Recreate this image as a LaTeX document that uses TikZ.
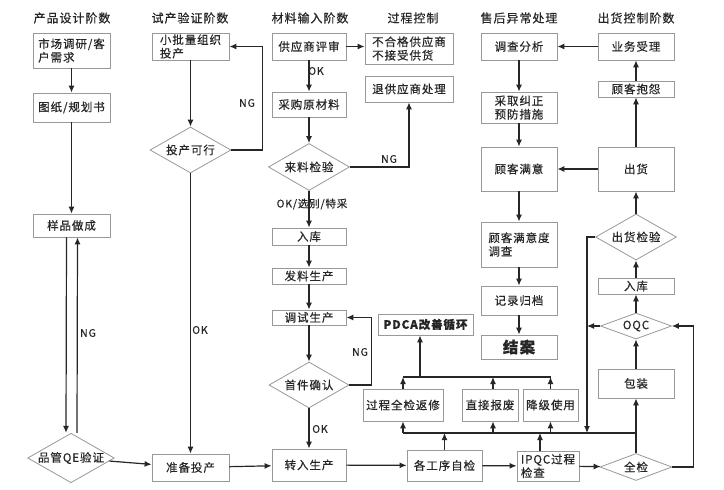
\documentclass[tikz,border=0pt]{standalone}
\usepackage{fontspec}
\setmainfont{Noto Sans CJK SC}[LetterSpace=8, FakeBold=0.4]
\usetikzlibrary{shapes.geometric,arrows.meta}
\colorlet{frame}{black!40}
\colorlet{ink}{black!85}
\colorlet{linec}{black!85}

\begin{document}
\begin{tikzpicture}[x=1pt,y=-1pt,
  box/.style 2 args={draw=frame, line width=0.8pt, text=ink, fill=white,
    minimum width=#1, minimum height=#2, inner sep=1pt,
    font=\fontsize{11.5}{13.5}\selectfont},
  dia/.style 2 args={diamond, draw=frame, line width=0.8pt, text=ink,
    fill=white, aspect=1.75, minimum width=#1, minimum height=#2,
    inner sep=0pt, font=\fontsize{11.5}{13.5}\selectfont},
  head/.style={text=ink, font=\fontsize{12}{14}\selectfont},
  tag/.style={text=ink, font=\fontsize{10.5}{12}\selectfont},
  link/.style={draw=linec, line width=1.2pt},
  flow/.style={link, -{Latex[length=7pt,width=6pt]}}]
      \useasboundingbox[fill=white] (0,0) rectangle (724,490);

      % Titles
      \node[head] (h1) at (72,18) {产品设计阶数};
      \node[head] (h2) at (190,18) {试产验证阶数};
      \node[head] (h3) at (310,18) {材料输入阶数};
      \node[head] (h4) at (413,18) {过程控制};
      \node[head] (h5) at (519,18) {售后异常处理};
      \node[head] (h6) at (636,18) {出货控制阶数};

      % Boxes (design)
      \node[box={77}{35}, align=left] (need) at (71.5,50.5) {市场调研/客\\户需求};
      \node[box={77}{29}] (plan) at (71.5,107.5) {图纸/规划书};
      \node[box={77}{23}] (sample) at (71.5,225.5) {样品做成};
      \node[dia={82}{47}] (qe) at (71,458) {品管QE验证};

      % Boxes (trial)
      \node[box={77}{27}, align=left] (batch) at (190.5,46.5) {小批量组织\\投产};
      \node[dia={81}{46}] (ok) at (190.5,150) {投产可行};
      \node[box={77}{27}] (ready) at (190.5,467.5) {准备投产};

      % Boxes (material)
      \node[box={74}{27}] (audit) at (309,46.5) {供应商评审};
      \node[box={74}{25}] (buy) at (309,104.5) {采购原材料};
      \node[dia={81}{47}] (iqc) at (309,167) {来料检验};
      \node[box={74}{17}] (store) at (309,236.5) {入库};
      \node[box={74}{16}] (issue) at (309,276) {发料生产};
      \node[box={74}{15}] (trial) at (309,317.5) {调试生产};
      \node[dia={80}{46}] (first) at (309,385) {首件确认};
      \node[box={74}{32}] (mass) at (309,465) {转入生产};

      % Boxes (process)
      \node[box={88}{31}, align=left] (reject) at (409,48.5) {不合格供应商\\不接受供货};
      \node[box={88}{26}] (back) at (409,89) {退供应商处理};
      \node[box={95}{21}, font=\bfseries\fontsize{11.5}{13.5}\selectfont] (pdca) at (425.5,324.5) {PDCA改善循环};
      \node[box={80}{32}] (rework) at (403,405) {过程全检返修};
      \node[box={56}{32}] (scrap) at (490,405) {直接报废};
      \node[box={55}{32}] (down) at (550.5,405) {降级使用};
      \node[box={75}{31}] (self) at (444.5,465.5) {各工序自检};
      \node[box={62}{30}, align=left] (ipqc) at (548,466) {IPQC过程\\检查};
      \node[dia={72}{27}] (full) at (636,467) {全检};

      % Boxes (after sale)
      \node[box={76}{27}] (study) at (519,46.5) {调查分析};
      \node[box={76}{31}, align=center] (fix) at (519,107.5) {采取纠正\\预防措施};
      \node[box={76}{44}] (happy) at (519,169) {顾客满意};
      \node[box={76}{45}, align=left] (survey) at (519,244.5) {顾客满意度\\调查};
      \node[box={76}{29}] (file) at (519,300.5) {记录归档};
      \node[box={76}{24}, font=\bfseries\fontsize{15.5}{17}\selectfont] (close) at (519,347) {结案};

      % Boxes (shipping)
      \node[box={76}{27}] (accept) at (636,46.5) {业务受理};
      \node[box={76}{16}] (claim) at (636,89) {顾客抱怨};
      \node[box={76}{44}] (ship) at (636,169) {出货};
      \node[dia={81}{46}] (oqa) at (636,237) {出货检验};
      \node[box={76}{16}] (stock) at (636,286) {入库};
      \node[dia={71}{26}] (oqc) at (636,326) {OQC};
      \node[box={76}{29}] (pack) at (636,383.5) {包装};

      % Bus points
      \coordinate (busU) at (403,377);
      \coordinate (busL) at (403,433);
      \coordinate (drop) at (587,433);

      % Arcs (design / trial)
      \draw[flow] (need) -- (plan);
      \draw[flow] (plan) -- (sample);
      \draw[flow] ([xshift=-5pt]sample.south) -- ([xshift=-5pt]qe.north);
      \draw[flow] ([xshift=6pt]qe.north) -- ([xshift=6pt]sample.south);
      \node[tag] (ng1) at (88,333) {NG};
      \draw[flow] (qe) -- (ready);
      \draw[flow] (batch) -- (ok);
      \draw[flow] (ok.east) -- ++(31,0) |- (batch.east);
      \node[tag] (ng2) at (247,103) {NG};
      \draw[flow] (ok) -- (ready);
      \node[tag] (ok1) at (200,330) {OK};
      \draw[flow] (ready) -- (mass);

      % Arcs (material)
      \draw[flow] (audit.east) -- (audit.east -| reject.west);
      \draw[flow] (audit) -- (buy);
      \node[tag] (ok2) at (316,71) {OK};
      \draw[flow] (buy) -- (iqc);
      \draw[flow] (iqc.east) -| (back.south);
      \node[tag] (ng3) at (389,159) {NG};
      \draw[flow] (iqc) -- (store);
      \node[tag] (ok3) at (312,204) {OK/选别/特采};
      \draw[flow] (store) -- (issue);
      \draw[flow] (issue) -- (trial);
      \draw[flow] (trial) -- (first);
      \draw[flow] (first.east) -- ++(22,0) |- (trial.east);
      \node[tag] (ng4) at (360,352) {NG};
      \draw[flow] (first) -- (mass);
      \node[tag] (ok4) at (320,429) {OK};
      \draw[flow] (mass) -- (self);
      \draw[flow] (self) -- (ipqc);
      \draw[flow] (ipqc) -- (full);

      % Arcs (bus)
      \draw[link] (busL) -- (busL -| full.north);
      \draw[flow] (self.north) -- (self.north |- busL);
      \draw[flow] ([xshift=-8pt]ipqc.north) -- ([xshift=-8pt]ipqc.north |- busL);
      \draw[flow] (rework.south |- busL) -- (rework.south);
      \draw[flow] ([xshift=3pt]scrap.south |- busL) -- ([xshift=3pt]scrap.south);
      \draw[flow] (down.south |- busL) -- (down.south);
      \draw[link] (busU) -- (busU -| down.north);
      \draw[flow] (rework.north) -- (rework.north |- busU);
      \draw[flow] ([xshift=3pt]scrap.north) -- ([xshift=3pt]scrap.north |- busU);
      \draw[flow] (down.north) -- (down.north |- busU);
      \draw[flow] ([xshift=-5.5pt]pdca.south |- busU) -- ([xshift=-5.5pt]pdca.south);

      % Arcs (shipping / after sale)
      \draw[flow] (full) -- (pack);
      \draw[flow] (pack) -- (oqc);
      \draw[flow] (oqc) -- (stock);
      \draw[flow] (stock) -- (oqa);
      \draw[flow] (oqa) -- (ship);
      \draw[flow] (ship) -- (claim);
      \draw[flow] (claim) -- (accept);
      \draw[flow] (accept) -- (study);
      \draw[flow] (ship) -- (happy);
      \draw[flow] (oqa.west) -| (drop);
      \draw[flow] (oqc.west) -- (oqc.west -| drop);
      \draw[flow] (full.east) -- ++(21,0) |- (oqc.east);
      \draw[flow] (study) -- (fix);
      \draw[flow] (fix) -- (happy);
      \draw[flow] (happy) -- (survey);
      \draw[flow] (survey) -- (file);
      \draw[flow] (file) -- (close);
    \end{tikzpicture}
\end{document}
